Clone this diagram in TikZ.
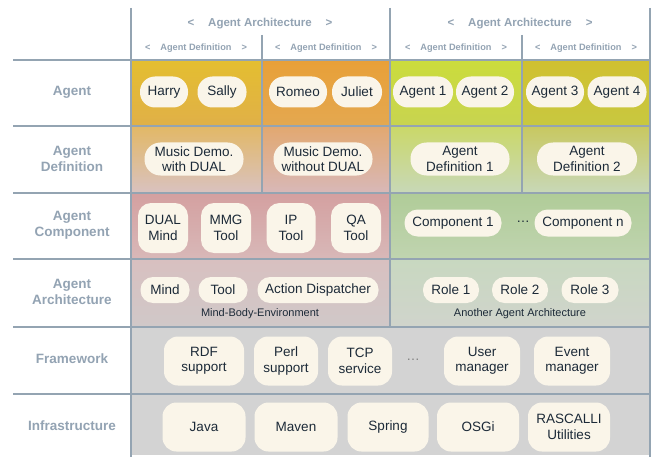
\documentclass[tikz,border=0pt]{standalone}
\usepackage{fontspec}
\setmainfont{Liberation Sans}
\newcommand\myNodeFont{\fontsize{13.5}{15.5}\selectfont}
\newcommand\myLabFont{\fontsize{13.5}{16}\selectfont\bfseries}
\newcommand\myHeadFont{\fontsize{11.5}{13}\selectfont\bfseries}
\newcommand\mySubFont{\fontsize{9.2}{11}\selectfont\bfseries}
\newcommand\mySmallFont{\fontsize{11}{13}\selectfont}
\definecolor{gridline}{HTML}{94A4B2}
\definecolor{cream}{HTML}{FAF5E9}
\definecolor{ink}{HTML}{1C2A38}
\definecolor{labcol}{HTML}{93A3B3}
\definecolor{graycell}{HTML}{D3D3D3}
\tikzset{
  pill/.style={fill=cream, draw=none, align=center, inner sep=0pt, font=\myNodeFont, text=ink},
  agentpill/.style={pill, minimum height=31pt, rounded corners=15pt},
  defpill/.style={pill, minimum height=33pt, rounded corners=16pt},
  tallpill/.style={pill, minimum height=50pt, rounded corners=13pt},
  comppill/.style={pill, minimum height=27pt, rounded corners=13pt},
  archpill/.style={pill, minimum height=26pt, rounded corners=12.5pt},
  fwbox/.style={pill, minimum height=49pt, rounded corners=14pt},
  rowlabel/.style={font=\myLabFont, text=labcol, align=center},
  headtext/.style={font=\myHeadFont, text=labcol},
  subtext/.style={font=\mySubFont, text=labcol},
  smalltext/.style={font=\mySmallFont, text=ink},
  grid/.style={draw=gridline, line width=1.8pt}
}
\begin{document}
\begin{tikzpicture}[x=1pt,y=-1pt]
\useasboundingbox (0,0) rectangle (655,457);
\fill[white] (0,0) rectangle (655,457);
% ---- cell fills ----
\shade[top color={rgb,255:red,228;green,190;blue,48}, bottom color={rgb,255:red,224;green,176;blue,72}] (131,60) rectangle (262,126);
\shade[top color={rgb,255:red,232;green,160;blue,56}, bottom color={rgb,255:red,228;green,168;blue,80}] (262,60) rectangle (390,126);
\shade[top color={rgb,255:red,203;green,220;blue,60}, bottom color={rgb,255:red,200;green,212;blue,80}] (390,60) rectangle (522,126);
\shade[top color={rgb,255:red,208;green,192;blue,48}, bottom color={rgb,255:red,200;green,200;blue,64}] (522,60) rectangle (650,126);
\shade[top color={rgb,255:red,226;green,184;blue,102}, bottom color={rgb,255:red,217;green,194;blue,192}] (131,126) rectangle (262,193);
\shade[top color={rgb,255:red,226;green,168;blue,112}, bottom color={rgb,255:red,216;green,184;blue,184}] (262,126) rectangle (390,193);
\shade[top color={rgb,255:red,202;green,216;blue,104}, bottom color={rgb,255:red,200;green,216;blue,184}] (390,126) rectangle (522,193);
\shade[top color={rgb,255:red,200;green,200;blue,96}, bottom color={rgb,255:red,200;green,216;blue,184}] (522,126) rectangle (650,193);
\shade[top color={rgb,255:red,212;green,160;blue,160}, bottom color={rgb,255:red,216;green,184;blue,184}] (131,193) rectangle (390,259);
\shade[top color={rgb,255:red,176;green,204;blue,152}, bottom color={rgb,255:red,192;green,212;blue,176}] (390,193) rectangle (650,259);
\shade[top color={rgb,255:red,216;green,192;blue,192}, bottom color={rgb,255:red,208;green,200;blue,200}] (131,259) rectangle (390,327);
\shade[top color={rgb,255:red,200;green,216;blue,192}, bottom color={rgb,255:red,208;green,212;blue,204}] (390,259) rectangle (650,327);
\fill[graycell] (131,327) rectangle (650,455);
% ---- grid lines ----
\foreach \yy in {60,126,193,259,327,394} { \draw[grid] (13,\yy) -- (650,\yy); }
\draw[grid] (131,8) -- (131,457);
\draw[grid] (650,8) -- (650,457);
\draw[grid] (390,8) -- (390,327);
\draw[grid] (262,35) -- (262,193);
\draw[grid] (522,35) -- (522,193);
% ---- header ----
\node[headtext] (h1) at (260,24) {<\hspace{14pt}Agent Architecture\hspace{14pt}>};
\node[headtext] (h2) at (520,24) {<\hspace{14pt}Agent Architecture\hspace{14pt}>};
\node[subtext] (s1) at (196,48) {<\hspace{10pt}Agent Definition\hspace{10pt}>};
\node[subtext] (s2) at (326,48) {<\hspace{10pt}Agent Definition\hspace{10pt}>};
\node[subtext] (s3) at (456,48) {<\hspace{10pt}Agent Definition\hspace{10pt}>};
\node[subtext] (s4) at (586,48) {<\hspace{10pt}Agent Definition\hspace{10pt}>};
% ---- row labels ----
\node[rowlabel] (lAgent) at (72,92) {Agent};
\node[rowlabel] (lDef) at (72,159) {Agent\\Definition};
\node[rowlabel] (lComp) at (72,225) {Agent\\Component};
\node[rowlabel] (lArch) at (72,292) {Agent\\Architecture};
\node[rowlabel] (lFw) at (72,359) {Framework};
\node[rowlabel] (lInf) at (72,426) {Infrastructure};
% ---- Agent row ----
\node[agentpill, minimum width=48pt] (harry) at (164,92) {Harry};
\node[agentpill, minimum width=49pt] (sally) at (222,92) {Sally};
\node[agentpill, minimum width=58pt] (romeo) at (298,92) {Romeo};
\node[agentpill, minimum width=50pt] (juliet) at (357,92) {Juliet};
\node[agentpill, minimum width=60pt] (ag1) at (423,92) {Agent 1};
\node[agentpill, minimum width=58pt] (ag2) at (485,92) {Agent 2};
\node[agentpill, minimum width=58pt] (ag3) at (555,92) {Agent 3};
\node[agentpill, minimum width=59pt] (ag4) at (617,92) {Agent 4};
% ---- Agent Definition row ----
\node[defpill, minimum width=99pt] (md1) at (194,159) {Music Demo.\\with DUAL};
\node[defpill, minimum width=99pt] (md2) at (323,159) {Music Demo.\\without DUAL};
\node[defpill, minimum width=99pt] (ad1) at (460,159) {Agent\\Definition 1};
\node[defpill, minimum width=100pt] (ad2) at (587,159) {Agent\\Definition 2};
% ---- Agent Component row ----
\node[tallpill, minimum width=50pt] (dualmind) at (163,228) {DUAL\\Mind};
\node[tallpill, minimum width=50pt] (mmg) at (226,228) {MMG\\Tool};
\node[tallpill, minimum width=49pt] (ip) at (291,228) {IP\\Tool};
\node[tallpill, minimum width=50pt] (qa) at (356,228) {QA\\Tool};
\node[comppill, minimum width=97pt] (c1) at (453,223) {Component 1};
\node[font=\myNodeFont, text=ink] (cdots) at (523,222) {\dots};
\node[comppill, minimum width=97pt] (cn) at (583,223) {Component n};
% ---- Agent Architecture row ----
\node[archpill, minimum width=49pt] (mind) at (165,290) {Mind};
\node[archpill, minimum width=49pt] (tool) at (223,290) {Tool};
\node[archpill, minimum width=121pt] (ad) at (318,290) {Action Dispatcher};
\node[smalltext] (mbe) at (260,314) {Mind-Body-Environment};
\node[archpill, minimum width=56pt] (r1) at (451,290) {Role 1};
\node[archpill, minimum width=56pt] (r2) at (520,290) {Role 2};
\node[archpill, minimum width=57pt] (r3) at (590,290) {Role 3};
\node[smalltext] (aaa) at (520,314) {Another Agent Architecture};
% ---- Framework row ----
\node[fwbox, minimum width=80pt] (rdf) at (204,361) {RDF\\support};
\node[fwbox, minimum width=64pt] (perl) at (286,361) {Perl\\support};
\node[fwbox, minimum width=64pt] (tcp) at (360,361) {TCP\\service};
\node[font=\myNodeFont, text=gray] (fdots) at (413,360) {\dots};
\node[fwbox, minimum width=76pt] (user) at (482,361) {User\\manager};
\node[fwbox, minimum width=76pt] (event) at (572,361) {Event\\manager};
% ---- Infrastructure row ----
\node[fwbox, minimum width=83pt] (java) at (204,427) {Java};
\node[fwbox, minimum width=83pt] (maven) at (296,427) {Maven};
\node[fwbox, minimum width=81pt] (spring) at (388,427) {Spring};
\node[fwbox, minimum width=82pt] (osgi) at (478,427) {OSGi};
\node[fwbox, minimum width=82pt] (rascalli) at (569,427) {RASCALLI\\Utilities};
\end{tikzpicture}
\end{document}
